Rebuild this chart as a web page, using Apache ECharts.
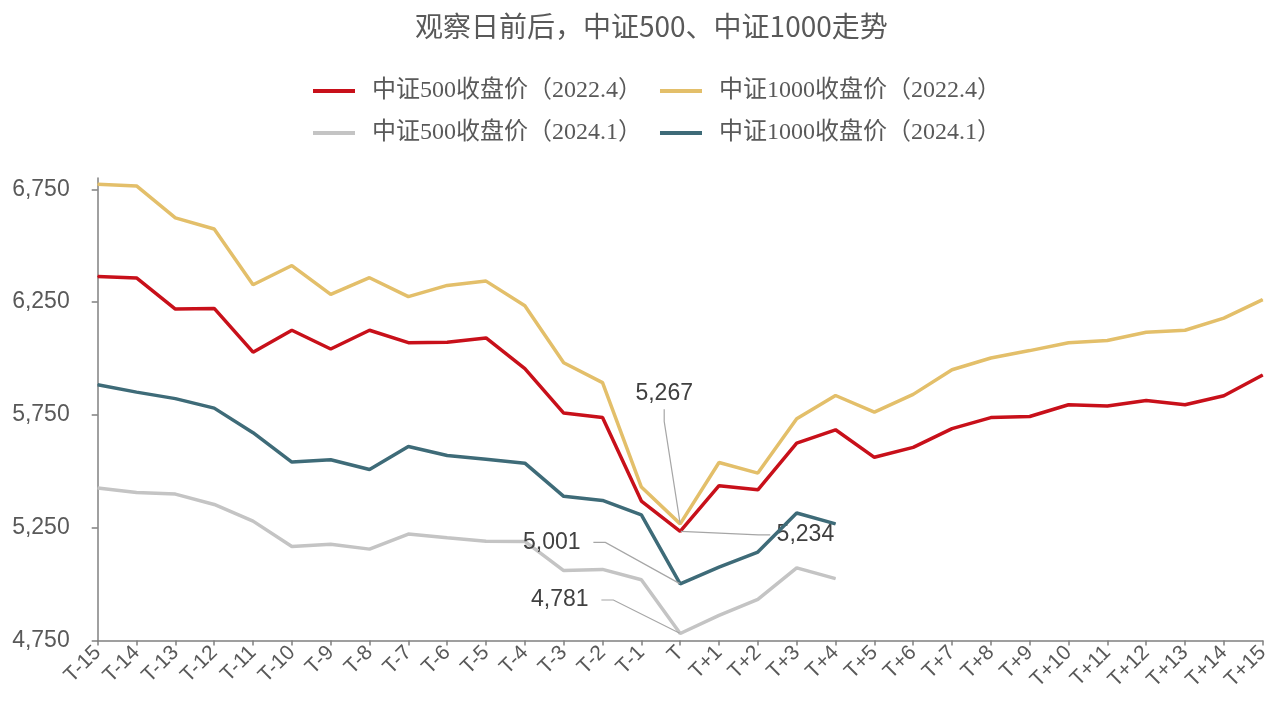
<!DOCTYPE html>
<html>
<head>
<meta charset="utf-8">
<script src="https://cdn.jsdelivr.net/npm/echarts@6/dist/echarts.min.js"></script>
<style>
html,body{margin:0;padding:0;background:#fff;}
#chart{width:1278px;height:706px;}
</style>
</head>
<body>
<div id="chart"></div>
<script>
const categories = ['T-15','T-14','T-13','T-12','T-11','T-10','T-9','T-8','T-7','T-6','T-5','T-4','T-3','T-2','T-1','T',
  'T+1','T+2','T+3','T+4','T+5','T+6','T+7','T+8','T+9','T+10','T+11','T+12','T+13','T+14','T+15'];
const seriesNames = ['中证500收盘价（2022.4）','中证1000收盘价（2022.4）','中证500收盘价（2024.1）','中证1000收盘价（2024.1）'];
const csi500_2022 = [6363,6357,6219,6222,6028,6125,6042,6125,6070,6072,6091,5955,5758,5738,5368,5234,
  5436,5418,5625,5684,5562,5606,5689,5738,5743,5795,5789,5814,5795,5835,5927];
const csi1000_2022 = [6772,6765,6623,6574,6327,6412,6284,6358,6274,6324,6343,6234,5981,5893,5430,5267,
  5539,5492,5733,5836,5762,5841,5950,6002,6035,6070,6080,6116,6125,6179,6261];
const csi500_2024 = [5426,5406,5399,5353,5279,5167,5177,5155,5222,5205,5190,5189,5060,5065,5019,4781,
  4861,4932,5072,5024];
const csi1000_2024 = [5884,5851,5822,5780,5671,5541,5551,5508,5610,5570,5553,5536,5389,5371,5307,5001,
  5075,5142,5315,5267];
const yTicks = [4750,5250,5750,6250,6750];
const obsIndex = 15;

const colors = ['#C8101A','#E3BF6A','#C4C4C4','#3E6B78'];
// annotation styling: offsets, spacer counts (leading, trailing spaces), line heights
const labelOffsets = [[122,22],[-16,-109],[-114,-15],[-122,-23]];
const labelSpaces = [[1,0],[0,0],[0,2],[0,2]];
const labelLineHeights = [26, 32, 26, 26];

function fmt(v){return v.toLocaleString('en-US');}

function makeSeries(i, data){
  const sp = labelSpaces[i];
  return {
    name: seriesNames[i],
    type: 'line',
    data: data.map((v, k) => k === obsIndex ? {
      value: v,
      label: {show: true, lineHeight: labelLineHeights[i]},
      labelLine: {show: true}
    } : v),
    symbol: 'circle',
    symbolSize: 1,
    showSymbol: true,
    lineStyle: {width: 3.5, color: colors[i]},
    itemStyle: {color: colors[i]},
    label: {
      show: false,
      position: 'top',
      formatter: p => ' '.repeat(sp[0]) + fmt(p.value) + ' '.repeat(sp[1]),
      fontFamily: 'Liberation Sans, Arial, sans-serif',
      fontSize: 23,
      color: '#404040'
    },
    labelLine: {
      lineStyle: {color: '#A6A6A6', width: 1.2},
      length2: 12,
      smooth: false
    },
    labelLayout: function(p){
      if (p.dataIndex === obsIndex) {
        return {dx: labelOffsets[i][0], dy: labelOffsets[i][1]};
      }
      return {};
    },
    emphasis: {disabled: true},
    z: 2 + i
  };
}

const chart = echarts.init(document.getElementById('chart'));
const legendText = {fontFamily: '"Liberation Serif", "Noto Sans CJK SC", serif', fontSize: 24, color: '#595959', padding: [0,0,0,12]};
chart.setOption({
  animation: false,
  backgroundColor: '#fff',
  title: {
    text: '观察日前后，中证500、中证1000走势',
    left: 410,
    top: 7,
    textStyle: {fontFamily: '"Noto Sans CJK SC", sans-serif', fontSize: 28, fontWeight: 'normal', color: '#595959'}
  },
  legend: [
    {data: [seriesNames[0], seriesNames[1]], left: 313, top: 79, padding: 0, itemGap: 18, itemWidth: 42, itemHeight: 4,
      icon: 'rect', textStyle: legendText},
    {data: [seriesNames[2], seriesNames[3]], left: 313, top: 121, padding: 0, itemGap: 18, itemWidth: 42, itemHeight: 4,
      icon: 'rect', textStyle: legendText}
  ],
  grid: {left: 97.7, right: 15.3, top: 178, bottom: 65.5, containLabel: false},
  xAxis: {
    type: 'category',
    data: categories,
    boundaryGap: false,
    axisLine: {lineStyle: {color: '#808080', width: 1.5}},
    axisTick: {show: true, length: 5, interval: 0, lineStyle: {color: '#808080', width: 1.5}},
    axisLabel: {interval: 0, rotate: 45, margin: 9, fontFamily: 'Liberation Sans, Arial, sans-serif', fontSize: 21, color: '#595959'},
    splitLine: {show: false}
  },
  yAxis: {
    type: 'value',
    min: 4750,
    max: 6800,
    interval: 500,
    axisLine: {show: true, lineStyle: {color: '#808080', width: 1.5}},
    axisTick: {show: true, length: 6, customValues: yTicks, lineStyle: {color: '#808080', width: 1.5}},
    axisLabel: {customValues: yTicks, formatter: v => fmt(v), margin: 28,
      fontFamily: 'Liberation Sans, Arial, sans-serif', fontSize: 23, color: '#595959'},
    splitLine: {show: false}
  },
  series: [
    makeSeries(0, csi500_2022),
    makeSeries(1, csi1000_2022),
    makeSeries(2, csi500_2024),
    makeSeries(3, csi1000_2024)
  ]
});
</script>
</body>
</html>
